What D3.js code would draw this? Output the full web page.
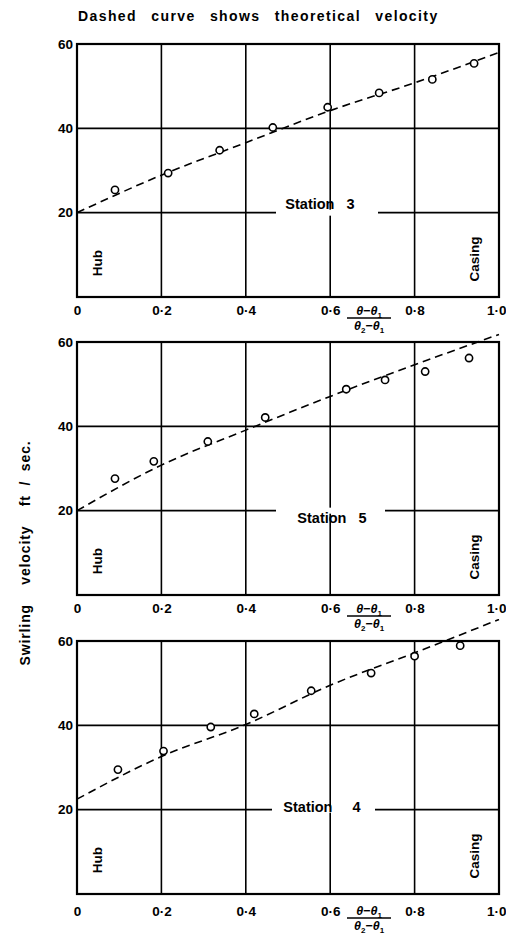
<!DOCTYPE html>
<html>
<head>
<meta charset="utf-8">
<script src="https://cdn.jsdelivr.net/npm/d3@7"></script>
<style>
  body { margin: 0; background: #fff; }
  svg text { font-family: "Liberation Sans", Arial, sans-serif; font-weight: bold; fill: #000; }
</style>
</head>
<body>
<div class="chart-wrapper"></div>
<script>
// x positions (fraction of span) and tick labels
const xTicks = [0, 0.2, 0.4, 0.6, 0.8, 1.0];
const xTickLabels = ["0", "0·2", "0·4", "0·6", "0·8", "1·0"];
const yTicks = [20, 40, 60];
const gridY = [20, 40];

const stationNames = ["Station   3", "Station   5", "Station     4"];

// measured swirl velocity, ft/sec
const station3X = [0.09, 0.216, 0.338, 0.464, 0.594, 0.716, 0.842, 0.941];
const station3Y = [25.4, 29.4, 34.8, 40.2, 45.0, 48.4, 51.6, 55.4];
const station5X = [0.09, 0.182, 0.31, 0.446, 0.638, 0.73, 0.825, 0.929];
const station5Y = [27.6, 31.7, 36.4, 42.1, 48.8, 51.0, 53.0, 56.2];
const station4X = [0.097, 0.205, 0.317, 0.42, 0.555, 0.697, 0.8, 0.908];
const station4Y = [29.5, 33.9, 39.6, 42.7, 48.2, 52.4, 56.4, 58.9];

// theoretical velocity (dashed curve) read at xTicks
const theory3 = [20, 28.9, 36.6, 44.2, 50.8, 58.0];
const theory5 = [20, 30.8, 39.1, 47.1, 54.6, 61.8];
const theory4 = [22.5, 32.6, 40.2, 49.5, 57.2, 65.1];

const width = 506, height = 948;
const left = 77, right = 499, panelH = 253;
const panelTops = [44, 342, 641];

const panels = [
  {name: stationNames[0], xs: station3X, ys: station3Y, theory: theory3, label: {x: 320, dy: -9, gap: [276, 378]}},
  {name: stationNames[1], xs: station5X, ys: station5Y, theory: theory5, label: {x: 332, dy: 7, gap: [276, 385]}},
  {name: stationNames[2], xs: station4X, ys: station4Y, theory: theory4, label: {x: 322, dy: -3, gap: [272, 375]}}
];

const svg = d3.select(".chart-wrapper").append("svg")
    .attr("width", width)
    .attr("height", height);

svg.append("text")
    .attr("x", 78)
    .attr("y", 21)
    .style("font-size", "14px")
    .style("letter-spacing", "1.4px")
    .style("word-spacing", "9px")
    .text("Dashed curve shows theoretical velocity");

svg.append("text")
    .attr("transform", "translate(30,553) rotate(-90)")
    .attr("text-anchor", "middle")
    .style("font-size", "14px")
    .style("letter-spacing", "0.9px")
    .style("white-space", "pre")
    .text("Swirling    velocity    ft  /  sec.");

const x = d3.scaleLinear().domain([0, 1]).range([left, right]);

panels.forEach((p, i) => {
  const top = panelTops[i];
  const y = d3.scaleLinear().domain([0, 60]).range([top + panelH, top]);
  const g = svg.append("g");

  // grid
  g.append("g").selectAll("line")
    .data(xTicks.slice(1, -1))
    .join("line")
    .attr("x1", d => x(d)).attr("x2", d => x(d))
    .attr("y1", y(0)).attr("y2", y(60))
    .attr("stroke", "#000").attr("stroke-width", 1.6);

  g.append("g").selectAll("line")
    .data(gridY)
    .join("line")
    .attr("x1", x(0)).attr("x2", x(1))
    .attr("y1", d => y(d)).attr("y2", d => y(d))
    .attr("stroke", "#000").attr("stroke-width", 1.6);

  // frame
  g.append("rect")
    .attr("x", x(0)).attr("y", y(60))
    .attr("width", x(1) - x(0)).attr("height", y(0) - y(60))
    .attr("fill", "none").attr("stroke", "#000").attr("stroke-width", 2.2);

  // station label breaking the 20 gridline
  g.append("rect")
    .attr("x", p.label.gap[0]).attr("y", y(20) - 3)
    .attr("width", p.label.gap[1] - p.label.gap[0]).attr("height", 6)
    .attr("fill", "#fff");
  g.append("text")
    .attr("x", p.label.x).attr("y", y(20) + p.label.dy)
    .attr("text-anchor", "middle").attr("dy", "0.35em")
    .style("font-size", "14.5px").style("white-space", "pre")
    .text(p.name);

  // Hub / Casing
  g.append("text")
    .attr("transform", `translate(${x(0) + 25},${y(0) - 34}) rotate(-90)`)
    .attr("text-anchor", "middle")
    .style("font-size", "13.5px")
    .text("Hub");
  g.append("text")
    .attr("transform", `translate(${x(1) - 20},${y(0) - 38}) rotate(-90)`)
    .attr("text-anchor", "middle")
    .style("font-size", "13.5px")
    .text("Casing");

  // axes
  const xAxis = d3.axisBottom(x).tickValues(xTicks)
      .tickFormat((d, k) => xTickLabels[k]).tickSize(0).tickPadding(8);
  g.append("g")
    .attr("transform", `translate(0,${y(0) + (i === 2 ? 4 : 0)})`)
    .call(xAxis)
    .call(a => a.select(".domain").remove())
    .call(a => a.selectAll("text").style("font-size", "13.5px")
        .style("font-family", "'Liberation Sans', Arial, sans-serif").style("font-weight", "bold"))
    .call(a => a.selectAll(".tick").filter(d => d === 1).select("text")
        .attr("text-anchor", "end").attr("x", 7));

  const yAxis = d3.axisLeft(y).tickValues(yTicks).tickSize(0).tickPadding(4);
  g.append("g")
    .attr("transform", `translate(${x(0)},0)`)
    .call(yAxis)
    .call(a => a.select(".domain").remove())
    .call(a => a.selectAll("text").style("font-size", "13.5px")
        .style("font-family", "'Liberation Sans', Arial, sans-serif").style("font-weight", "bold"));

  // fraction label
  const fx = 369, fy = y(0) + (i === 2 ? 17 : 14);
  const num = g.append("text").attr("x", fx).attr("y", fy + 4)
    .attr("text-anchor", "middle").style("font-size", "12.5px");
  num.append("tspan").style("font-style", "italic").text("θ−θ");
  num.append("tspan").attr("dy", 3).style("font-size", "8px").text("1");
  g.append("line")
    .attr("x1", fx - 22).attr("x2", fx + 22)
    .attr("y1", fy + 7).attr("y2", fy + 7)
    .attr("stroke", "#000").attr("stroke-width", 1.4);
  const den = g.append("text").attr("x", fx).attr("y", fy + 19)
    .attr("text-anchor", "middle").style("font-size", "12.5px");
  den.append("tspan").style("font-style", "italic").text("θ");
  den.append("tspan").attr("dy", 3).style("font-size", "8px").text("2");
  den.append("tspan").attr("dy", -3).style("font-style", "italic").text("−θ");
  den.append("tspan").attr("dy", 3).style("font-size", "8px").text("1");

  // theoretical curve
  const line = d3.line()
    .x((d, k) => x(xTicks[k]))
    .y(d => y(d))
    .curve(d3.curveMonotoneX);
  g.append("path")
    .datum(p.theory)
    .attr("d", line)
    .attr("fill", "none")
    .attr("stroke", "#000")
    .attr("stroke-width", 1.6)
    .attr("stroke-dasharray", "8,5");

  // measured points
  g.append("g").selectAll("circle")
    .data(p.xs.map((v, k) => [v, p.ys[k]]))
    .join("circle")
    .attr("cx", d => x(d[0]))
    .attr("cy", d => y(d[1]))
    .attr("r", 3.6)
    .attr("fill", "#fff")
    .attr("stroke", "#000")
    .attr("stroke-width", 1.6);
});
</script>
</body>
</html>
